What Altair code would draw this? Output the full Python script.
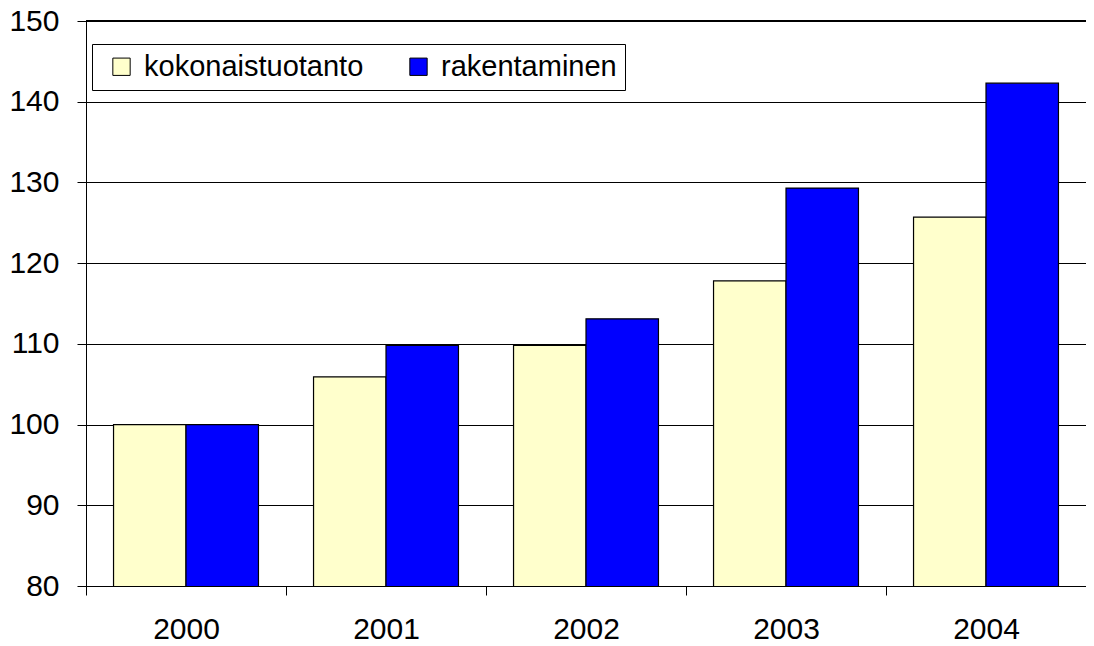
import altair as alt
import pandas as pd

years = ["2000", "2001", "2002", "2003", "2004"]
series = ["kokonaistuotanto", "rakentaminen"]
kokonaistuotanto = [100.0, 105.9, 109.8, 117.8, 125.7]
rakentaminen = [100.0, 109.8, 113.1, 129.3, 142.3]
colors = ["#FFFFCC", "#0000FF"]
y_ticks = [80, 90, 100, 110, 120, 130, 140, 150]

rows = []
for i, y in enumerate(years):
    rows.append({"vuosi": y, "sarja": series[0], "arvo": kokonaistuotanto[i]})
    rows.append({"vuosi": y, "sarja": series[1], "arvo": rakentaminen[i]})
df = pd.DataFrame(rows)

FONT = "Liberation Sans"
NBSP = "\u00a0"

bars = alt.Chart(df).mark_bar(stroke="black", strokeWidth=1.2, clip=True).encode(
    x=alt.X("vuosi:N", sort=years, title=None,
            scale=alt.Scale(paddingInner=0, paddingOuter=0),
            axis=alt.Axis(labelAngle=0, labelFontSize=30, labelFont=FONT, labelColor="black",
                          tickBand="extent", tickSize=9, tickColor="black", domainColor="black",
                          labelPadding=19, grid=False)),
    xOffset=alt.XOffset("sarja:N", sort=series,
                        scale=alt.Scale(paddingOuter=0.38, paddingInner=0)),
    y=alt.Y("arvo:Q", title=None,
            scale=alt.Scale(domain=[80, 150], nice=False, zero=False),
            axis=alt.Axis(values=y_ticks, labelFontSize=30, labelFont=FONT, labelColor="black",
                          tickSize=9, tickColor="black", domainColor="black",
                          labelPadding=18, grid=True, gridColor="black", gridWidth=1,
                          gridOpacity=1)),
    color=alt.Color("sarja:N", sort=series,
                    scale=alt.Scale(domain=series, range=colors),
                    legend=alt.Legend(title=" ", titleOrient="left", titleFontSize=1,
                                      titlePadding=7,
                                      orient="none", legendX=6, legendY=23,
                                      direction="horizontal", symbolType="square",
                                      symbolSize=300, symbolStrokeColor="black",
                                      symbolStrokeWidth=1, labelFontSize=29, labelFont=FONT,
                                      labelColor="black", labelLimit=1000,
                                      labelExpr="datum.label == 'rakentaminen' ? datum.label + '" + NBSP * 3 + "' : datum.label",
                                      strokeColor="black", padding=8,
                                      columnPadding=40, labelOffset=8,
                                      fillColor="white", symbolOpacity=1)),
)

top = alt.Chart(pd.DataFrame({"v": [150]})).mark_rule(color="black", strokeWidth=2).encode(
    y=alt.Y("v:Q")
)

chart = alt.layer(bars, top).properties(
    width=1000, height=565,
    padding={"left": 78, "top": 13, "right": 0, "bottom": 60},
    autosize=alt.AutoSizeParams(type="none"),
).configure_view(stroke=None).configure(background="white")

chart.save("out.html", embed_options={"renderer": "svg", "actions": False})
